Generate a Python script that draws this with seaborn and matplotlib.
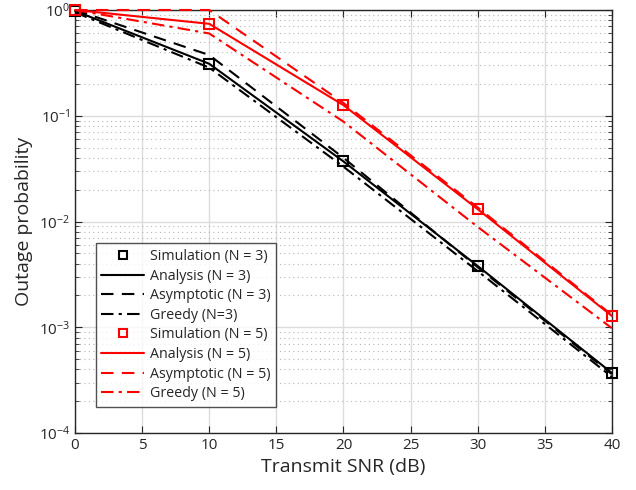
import matplotlib
matplotlib.use("Agg")
import matplotlib.pyplot as plt
import seaborn as sns
import pandas as pd
import numpy as np
from matplotlib.ticker import LogLocator, NullFormatter, MultipleLocator

snr = [0, 10, 20, 30, 40]

# N = 3
sim_n3 = [0.98, 0.31, 0.037, 0.0038, 0.00037]
ana_n3 = [0.98, 0.31, 0.037, 0.0038, 0.00037]
asy_n3 = [1.0, 0.375, 0.040, 0.0037, 0.00036]
grd_n3 = [0.95, 0.285, 0.033, 0.0034, 0.00034]

# N = 5
sim_n5 = [1.0, 0.74, 0.126, 0.0131, 0.00128]
ana_n5 = [1.0, 0.74, 0.126, 0.0131, 0.00128]
asy_n5 = [1.0, 1.0, 0.132, 0.0136, 0.00131]
grd_n5 = [1.0, 0.60, 0.088, 0.0089, 0.00098]

series = [
    ("Simulation (N = 3)", sim_n3, "black", "sim"),
    ("Analysis (N = 3)", ana_n3, "black", "-"),
    ("Asymptotic (N = 3)", asy_n3, "black", "--"),
    ("Greedy (N=3)", grd_n3, "black", "-."),
    ("Simulation (N = 5)", sim_n5, "red", "sim"),
    ("Analysis (N = 5)", ana_n5, "red", "-"),
    ("Asymptotic (N = 5)", asy_n5, "red", "--"),
    ("Greedy (N = 5)", grd_n5, "red", "-."),
]
line_styles = {"-": "-", "--": (0, (6, 4)), "-.": (0, (6, 2.5, 1.5, 2.5))}

sns.set_style("ticks")
plt.rcParams["font.family"] = ["Open Sans", "DejaVu Sans"]

fig = plt.figure(figsize=(6.36, 4.9), dpi=100)
ax = fig.add_axes([0.118, 0.1163, 0.844, 0.8633])

for label, vals, col, style in series:
    df = pd.DataFrame({"snr": snr, "p": vals})
    if style == "sim":
        sns.lineplot(data=df, x="snr", y="p", ax=ax, color=col, linestyle="none",
                     marker="s", markersize=7, markerfacecolor="none",
                     markeredgecolor=col, markeredgewidth=1.5, label=label,
                     zorder=5, clip_on=False)
    else:
        sns.lineplot(data=df, x="snr", y="p", ax=ax, color=col, linewidth=1.5,
                     linestyle=line_styles[style], label=label, zorder=4,
                     clip_on=False)

ax.set_yscale("log")
ax.set_xlim(0, 40)
ax.set_ylim(1e-4, 1)
ax.xaxis.set_major_locator(MultipleLocator(5))
ax.yaxis.set_major_locator(LogLocator(base=10, numticks=10))
ax.yaxis.set_minor_locator(LogLocator(base=10, subs=np.arange(2, 10), numticks=10))
ax.yaxis.set_minor_formatter(NullFormatter())

ax.grid(which="major", color="#dcdcdc", linewidth=1.0, linestyle="-")
ax.grid(which="minor", axis="y", color="#b5b5b5", linewidth=0.8, linestyle=(0, (1, 3)))
ax.set_axisbelow(True)

ax.tick_params(which="both", direction="in", top=True, right=True, colors="#262626",
               labelsize=11)
ax.tick_params(which="major", length=5)
ax.tick_params(which="minor", length=3)
for s in ax.spines.values():
    s.set_color("#262626")
    s.set_linewidth(1.0)
    s.set_zorder(3)

ax.set_xlabel("Transmit SNR (dB)", fontsize=14, color="#262626")
ax.set_ylabel("Outage probability", fontsize=14, color="#262626")

leg = ax.legend(loc="lower left", bbox_to_anchor=(0.025, 0.045), fontsize=10.3,
                frameon=True, fancybox=False, edgecolor="#262626",
                handlelength=3.0, labelspacing=0.32, borderpad=0.4, handletextpad=0.4)
leg.get_frame().set_linewidth(1.0)
leg.set_zorder(6)
for h in leg.legend_handles:
    if h.get_marker() == "s":
        h.set_markersize(6)

fig.savefig("out.png", dpi=100)
